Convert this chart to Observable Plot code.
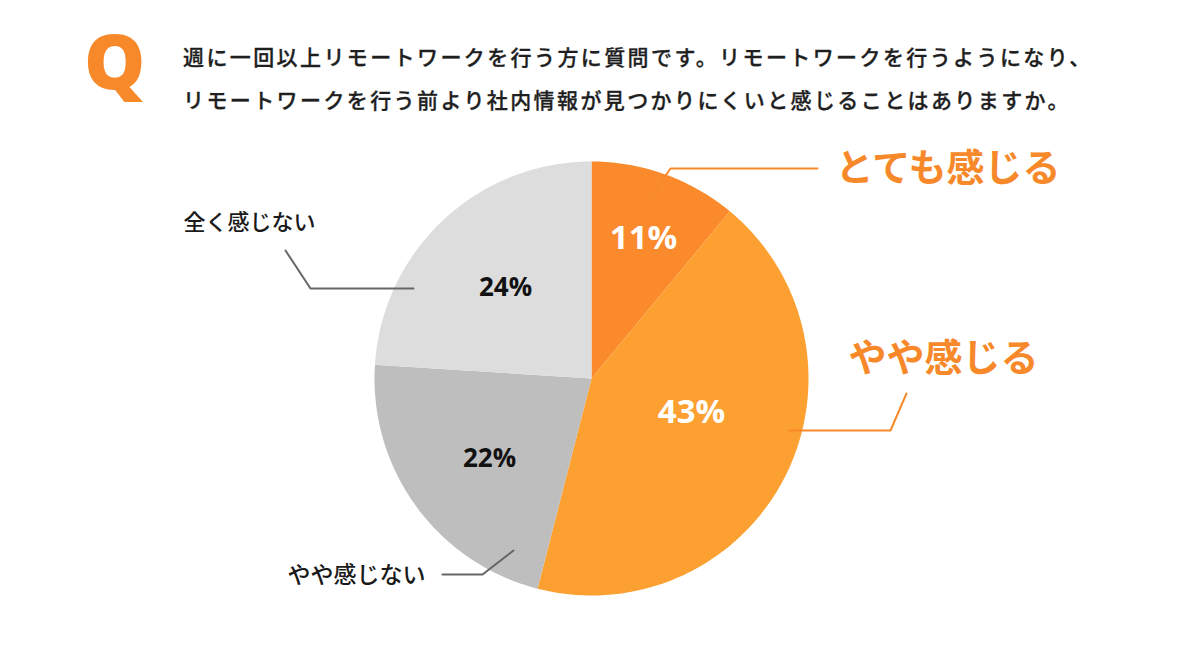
<!DOCTYPE html>
<html><head><meta charset="utf-8">
<script src="https://cdn.jsdelivr.net/npm/d3@7"></script>
<script src="https://cdn.jsdelivr.net/npm/@observablehq/plot@0.6"></script>
<style>
html,body{margin:0;padding:0;background:#fff;}
#wrap{position:relative;width:1200px;height:646px;overflow:hidden;}
#head{position:relative;width:1200px;height:130px;}
#q{position:absolute;left:84px;top:18px;font-family:"Open Sans","Noto Sans",sans-serif;font-weight:800;font-size:77px;line-height:84px;color:#F7892B;}
.tl{position:absolute;left:183px;font-family:"Noto Sans CJK JP",sans-serif;font-weight:500;font-size:21px;letter-spacing:2.4px;color:#1f1f1f;white-space:nowrap;line-height:30px;-webkit-text-stroke:0.3px #1f1f1f;}
#chart svg{display:block;}
</style></head>
<body><div id="wrap">
<div id="head"><div id="q">Q</div>
<div class="tl" id="t1" style="top:41px"></div>
<div class="tl" id="t2" style="top:84px"></div></div>
<div id="chart"></div></div>
<script>
// ---- data ----
const categories = ["とても感じる", "やや感じる", "やや感じない", "全く感じない"];
const shares = [11, 43, 22, 24];
const titleLines = [
  "週に一回以上リモートワークを行う方に質問です。リモートワークを行うようになり、",
  "リモートワークを行う前より社内情報が見つかりにくいと感じることはありますか。"
];

// ---- layout / style ----
const W = 1200, H = 516;
const cx = 591, cy = 248, R = 217;
const colors = ["#FA8A2B", "#FCA031", "#BEBEBE", "#DDDDDD"];
const pctStyle = [
  {dx: 52, dy: -140, size: 33, color: "#fff"},
  {dx: 100, dy: 34, size: 33, color: "#fff"},
  {dx: -102, dy: 80, size: 26, color: "#111"},
  {dx: -86, dy: -91, size: 26, color: "#111"}
];
const labelStyle = [
  {x: 835, y: 38, size: 38, color: "#F7892B", weight: 700, ls: "4px"},
  {x: 848, y: 228, size: 38, color: "#F7892B", weight: 700, ls: "4px"},
  {x: 287, y: 445, size: 23, color: "#1a1a1a", weight: 500, ls: "1.5px"},
  {x: 183, y: 92, size: 22, color: "#1a1a1a", weight: 500, ls: "1px"}
];
const leaders = [
  {pts: [[650, 67], [670, 38], [817, 38]], color: "#F7892B"},
  {pts: [[788, 300], [890, 300], [906, 263]], color: "#F7892B"},
  {pts: [[513, 420], [482, 444], [442, 444]], color: "#666"},
  {pts: [[285, 120], [310, 158], [413, 158]], color: "#666"}
];

document.getElementById("t1").textContent = titleLines[0];
document.getElementById("t2").textContent = titleLines[1];

// ---- pie geometry from the values ----
const pie = d3.pie().sort(null).value(d => d.v)(categories.map((c, i) => ({c, v: shares[i], i})));
const slicePts = [];
pie.forEach(p => {
  const n = Math.max(8, Math.ceil((p.endAngle - p.startAngle) * 60));
  slicePts.push({k: p.data.c, x: cx, y: cy});
  for (let j = 0; j <= n; j++) {
    const a = p.startAngle + (p.endAngle - p.startAngle) * j / n;
    slicePts.push({k: p.data.c, x: cx + R * Math.sin(a), y: cy - R * Math.cos(a)});
  }
  slicePts.push({k: p.data.c, x: cx, y: cy});
});
const pctData = categories.map((c, i) => ({c, t: shares[i] + "%", x: cx + pctStyle[i].dx, y: cy + pctStyle[i].dy, ...pctStyle[i]}));
const lblData = categories.map((c, i) => ({c, ...labelStyle[i]}));
const leaderData = leaders.flatMap((l, i) => l.pts.map(p => ({k: categories[i], x: p[0], y: p[1], color: l.color})));

const marks = [
  Plot.line(slicePts, {x: "x", y: "y", z: "k", fill: "k", stroke: null, curve: "linear"}),
];
leaders.forEach((l, i) => {
  marks.push(Plot.line(leaderData.filter(d => d.k === categories[i]), {x: "x", y: "y", stroke: l.color, strokeWidth: 2}));
});
pctData.forEach(d => {
  marks.push(Plot.text([d], {x: "x", y: "y", text: "t", fill: d.color, fontSize: d.size, fontWeight: 700,
    fontFamily: "'Open Sans','Noto Sans',sans-serif"}));
});
lblData.forEach(d => {
  marks.push(Plot.text([d], {x: "x", y: "y", text: "c", fill: d.color, fontSize: d.size, fontWeight: d.weight,
    textAnchor: "start", fontFamily: "'Noto Sans CJK JP',sans-serif", letterSpacing: d.ls}));
});

const chart = Plot.plot({
  width: W, height: H, margin: 0,
  x: {domain: [0, W], range: [0, W], axis: null},
  y: {domain: [0, H], range: [0, H], axis: null},
  color: {domain: categories, range: colors},
  marks
});
document.getElementById("chart").appendChild(chart);
</script></body></html>
